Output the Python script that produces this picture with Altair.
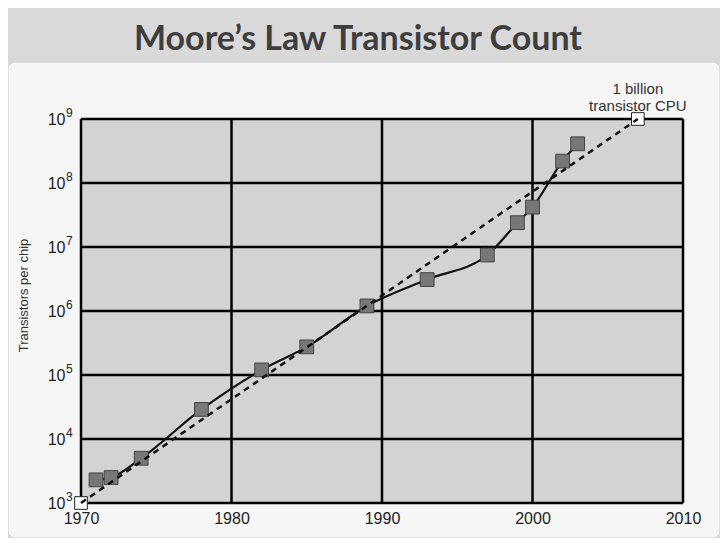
import altair as alt
import pandas as pd

# ---- data ----
years = [1971, 1972, 1974, 1978, 1982, 1985, 1989, 1993, 1997, 1999, 2000, 2002, 2003]
counts = [2300, 2500, 5000, 29000, 120000, 275000, 1200000, 3100000,
          7500000, 24000000, 42000000, 220000000, 410000000]
trend_years = [1970, 2007]
trend_counts = [1e3, 1e9]
x_ticks = [1970, 1980, 1990, 2000, 2010]
y_ticks = [1e3, 1e4, 1e5, 1e6, 1e7, 1e8, 1e9]
y_exponents = ["3", "4", "5", "6", "7", "8", "9"]
note_text = "1 billion\ntransistor CPU"

chips = pd.DataFrame({"year": years, "count": counts})
trend = pd.DataFrame({"year": trend_years, "count": trend_counts})
note = pd.DataFrame({"year": [trend_years[-1]], "count": [trend_counts[-1]], "label": [note_text]})
vgrid = pd.DataFrame({"year": x_ticks})
hgrid = pd.DataFrame({"count": y_ticks, "exp": y_exponents})
frame = pd.DataFrame({"year": [x_ticks[0]], "year2": [x_ticks[-1]],
                      "count": [y_ticks[0]], "count2": [y_ticks[-1]]})

W, H = 602, 384
PAD = {"left": 73, "top": 111, "right": 37, "bottom": 35}

xs = alt.Scale(domain=[x_ticks[0], x_ticks[-1]], nice=False, zero=False)
ys = alt.Scale(type="log", domain=[y_ticks[0], y_ticks[-1]], nice=False)

x_axis = alt.Axis(values=x_ticks, format="d", title=None, grid=False, ticks=False,
                  domain=False, labelFont="Liberation Sans", labelFontSize=16,
                  labelColor="#222222", labelPadding=7, labelFlush=False, zindex=2)
y_axis = alt.Axis(values=y_ticks, grid=False, ticks=False, domain=False,
                  labelExpr="'10'",
                  labelFont="Liberation Sans", labelFontSize=16, labelColor="#222222",
                  labelPadding=16, labelFlush=False, zindex=2,
                  title="Transistors per chip", titleFont="Liberation Sans",
                  titleFontSize=13, titleFontWeight="normal", titleColor="#333333",
                  titleX=-58, titleY=176, titleAngle=270, titleAlign="center",
                  titleBaseline="middle")

X = alt.X("year:Q", scale=xs, axis=x_axis)
Y = alt.Y("count:Q", scale=ys, axis=y_axis)

panel = alt.Chart(pd.DataFrame({"a": [0]})).mark_rect(
    fill="#f6f6f6", cornerRadius=7, stroke="#cfcfcf", strokeWidth=1
).encode(x=alt.value(-73), x2=alt.value(639), y=alt.value(-57), y2=alt.value(419))

plot_bg = alt.Chart(frame).mark_rect(fill="#d3d3d3").encode(
    x=X, x2="year2:Q", y=Y, y2="count2:Q")

vlines = alt.Chart(vgrid).mark_rule(color="#000000", strokeWidth=2.5).encode(x=X)
hlines = alt.Chart(hgrid).mark_rule(color="#000000", strokeWidth=2.5).encode(y=Y)

# exponents of the y tick labels (10^n), placed next to the axis labels
exps = alt.Chart(hgrid).mark_text(
    font="Liberation Sans", fontSize=12, color="#222222", align="left",
    baseline="middle", dx=-15, dy=-6).encode(
    x=alt.datum(x_ticks[0], scale=xs), y=Y, text="exp:N")

chip_line = alt.Chart(chips).mark_line(
    color="#111111", strokeWidth=2.2, interpolate="monotone").encode(x=X, y=Y)

chip_pts = alt.Chart(chips).mark_square(
    size=190, fill="#777777", stroke="#444444", strokeWidth=1, opacity=1).encode(x=X, y=Y)

trend_pts = alt.Chart(trend).mark_square(
    size=160, fill="#ffffff", stroke="#222222", strokeWidth=1, opacity=1).encode(x=X, y=Y)

trend_dash = alt.Chart(trend).mark_line(
    color="#111111", strokeWidth=2.5, strokeDash=[6, 5], clip=False).encode(x=X, y=Y)

note_mark = alt.Chart(note).mark_text(
    font="Liberation Sans", fontSize=15, color="#333333", baseline="bottom",
    align="center", dy=-22, lineHeight=17, lineBreak="\n").encode(x=X, y=Y, text="label:N")

chart = alt.layer(
    panel, plot_bg, vlines, hlines, exps, chip_line, chip_pts, trend_pts, trend_dash, note_mark
).properties(
    width=W, height=H,
    title=alt.TitleParams("Moore’s Law Transistor Count", font="Lato", fontSize=34,
                          fontWeight="bold", color="#3e3e3e", anchor="middle",
                          dx=-24, offset=5),
    autosize=alt.AutoSizeParams(type="none"),
    padding=PAD,
    background="#d9d9d9",
).configure_view(stroke=None)

chart.save("out.html", embed_options={"renderer": "svg", "actions": False})
